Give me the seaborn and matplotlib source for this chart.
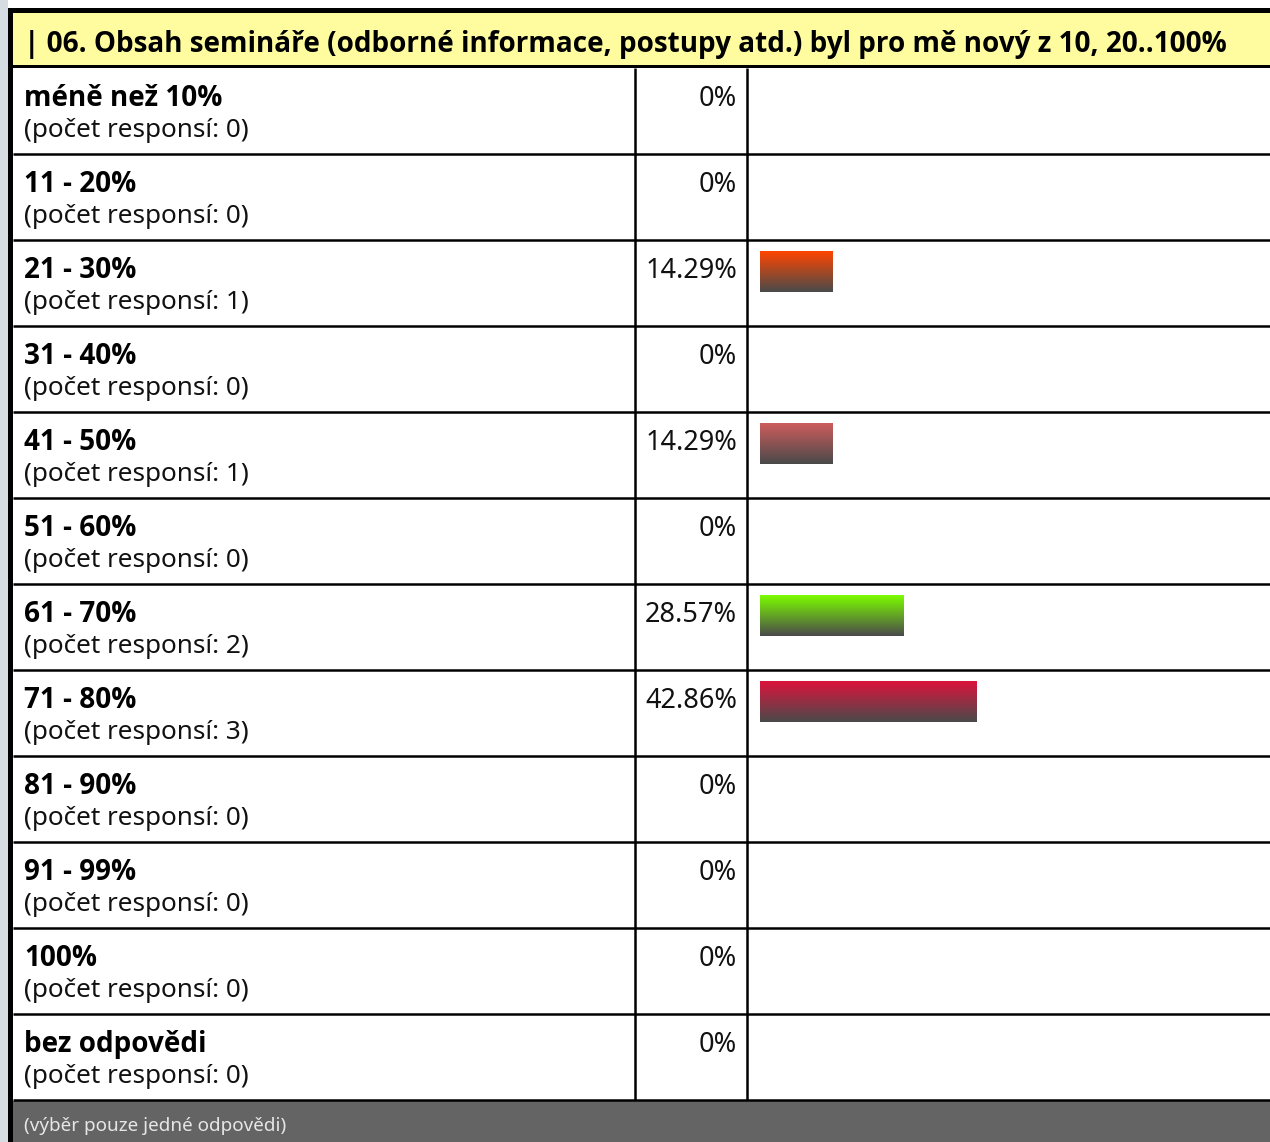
import os
import numpy as np
import pandas as pd
import matplotlib
matplotlib.use("Agg")
import matplotlib.pyplot as plt
import matplotlib.colors as mcolors
from matplotlib import font_manager as fm
from matplotlib.patches import Rectangle
import seaborn as sns

# ---------------- DATA ----------------
title = "| 06. Obsah semináře (odborné informace, postupy atd.) byl pro mě nový z 10, 20..100%"
categories = ["méně než 10%", "11 - 20%", "21 - 30%", "31 - 40%", "41 - 50%", "51 - 60%",
              "61 - 70%", "71 - 80%", "81 - 90%", "91 - 99%", "100%", "bez odpovědi"]
counts = [0, 0, 1, 0, 1, 0, 2, 3, 0, 0, 0, 0]
percents = [0, 0, 14.29, 0, 14.29, 0, 28.57, 42.86, 0, 0, 0, 0]
bar_colors = ["#888888", "#888888", "#ff4500", "#888888", "#cd5c5c", "#888888",
              "#7cfc00", "#dc143c", "#888888", "#888888", "#888888", "#888888"]
footer = "(výběr pouze jedné odpovědi)"

# ---------------- STYLE ----------------
sns.set_theme(style="white")
plt.rcParams["font.family"] = ["Noto Sans", "DejaVu Sans"]


def has_bold(fam):
    # true if a real bold face of the family is installed
    try:
        path = fm.findfont(fm.FontProperties(family=fam, weight="bold"), fallback_to_default=False)
    except Exception:
        return False
    return "bold" in os.path.basename(path).lower()


bold_family = "DejaVu Sans"
for fam in ["Noto Sans", "Open Sans", "Lato", "Roboto"]:
    if has_bold(fam):
        bold_family = fam
        break
bold_fams = [bold_family, "DejaVu Sans"]

W, H = 1270, 1142
fig = plt.figure(figsize=(W / 100, H / 100), dpi=100)
fig.patch.set_facecolor("white")

# overlay axes in pixel coordinates for the table frame
ax = fig.add_axes([0, 0, 1, 1])
ax.set_xlim(0, W)
ax.set_ylim(H, 0)
ax.axis("off")

row_top0 = 68
row_h = 86
n = len(categories)
table_bottom = row_top0 + n * row_h
col1, col2 = 635, 747
lw = 1.8

# left page strip and outer border
ax.add_patch(Rectangle((0, 0), 8, H, color="#d5dde3", lw=0))
ax.add_patch(Rectangle((8, 8), W, 5, color="black", lw=0))
ax.add_patch(Rectangle((8, 8), 5, H, color="black", lw=0))

# header
ax.add_patch(Rectangle((13, 13), W, 53, color="#fefc9e", lw=0))
ax.add_patch(Rectangle((13, 65), W, 3, color="black", lw=0))
t_title = ax.text(24, 52, title, fontsize=19, fontweight="bold", family=bold_fams,
                  color="black", va="baseline")
# fit bold size so the header line is as wide as in the reference
fig.canvas.draw()
bw = t_title.get_window_extent().width
bold_size = 19 * 1198 / bw
t_title.set_fontsize(bold_size)

# rows
for i, (cat, c, p) in enumerate(zip(categories, counts, percents)):
    top = row_top0 + i * row_h
    ax.text(24, top + 38, cat, fontsize=bold_size, fontweight="bold", family=bold_fams,
            color="black", va="baseline")
    ax.text(24, top + 69, f"(počet responsí: {c})", fontsize=18.8, color="#111111", va="baseline")
    ax.text(737, top + 38, f"{p:g}%", fontsize=19.5, color="#111111", va="baseline", ha="right")
    ax.plot([13, W], [top + row_h, top + row_h], color="black", lw=lw, solid_capstyle="butt")
    ax.plot([col1, col1], [top, top + row_h], color="black", lw=lw, solid_capstyle="butt")
    ax.plot([col2, col2], [top, top + row_h], color="black", lw=lw, solid_capstyle="butt")

# footer
ax.add_patch(Rectangle((13, table_bottom + 1), W, H - table_bottom, color="#646464", lw=0))
ax.text(24, 1131, footer, fontsize=13.6, color="#e6e6e6", va="baseline")

# ---------------- BARS ----------------
bar_left = 760
full_w = 504
y_top = row_top0 + 31.5 - row_h / 2
bax = fig.add_axes([bar_left / W, 1 - (y_top + n * row_h) / H, full_w / W, n * row_h / H])
bax.patch.set_alpha(0)

df = pd.DataFrame({"kategorie": categories, "procenta": percents})
sns.barplot(data=df, x="procenta", y="kategorie", hue="kategorie", palette=bar_colors,
            orient="h", width=0.47, saturation=1, legend=False, ax=bax)

bottom_rgb = np.array(mcolors.to_rgb("#4a4a4a"))
for patch, col in zip(bax.patches, bar_colors):
    w = patch.get_width()
    if w <= 0:
        patch.set_visible(False)
        continue
    x0, y0, h = patch.get_x(), patch.get_y(), patch.get_height()
    top_rgb = np.array(mcolors.to_rgb(col))
    t = np.linspace(0, 1, 64)[:, None]
    grad = (1 - t) * top_rgb + t * bottom_rgb
    bax.imshow(grad[:, None, :], extent=(x0, x0 + w, y0 + h, y0), aspect="auto",
               interpolation="bilinear", zorder=3)
    patch.set_visible(False)

bax.set_xlim(0, 100)
bax.set_ylim(n - 0.5, -0.5)
bax.axis("off")

fig.savefig("out.png", dpi=100)
